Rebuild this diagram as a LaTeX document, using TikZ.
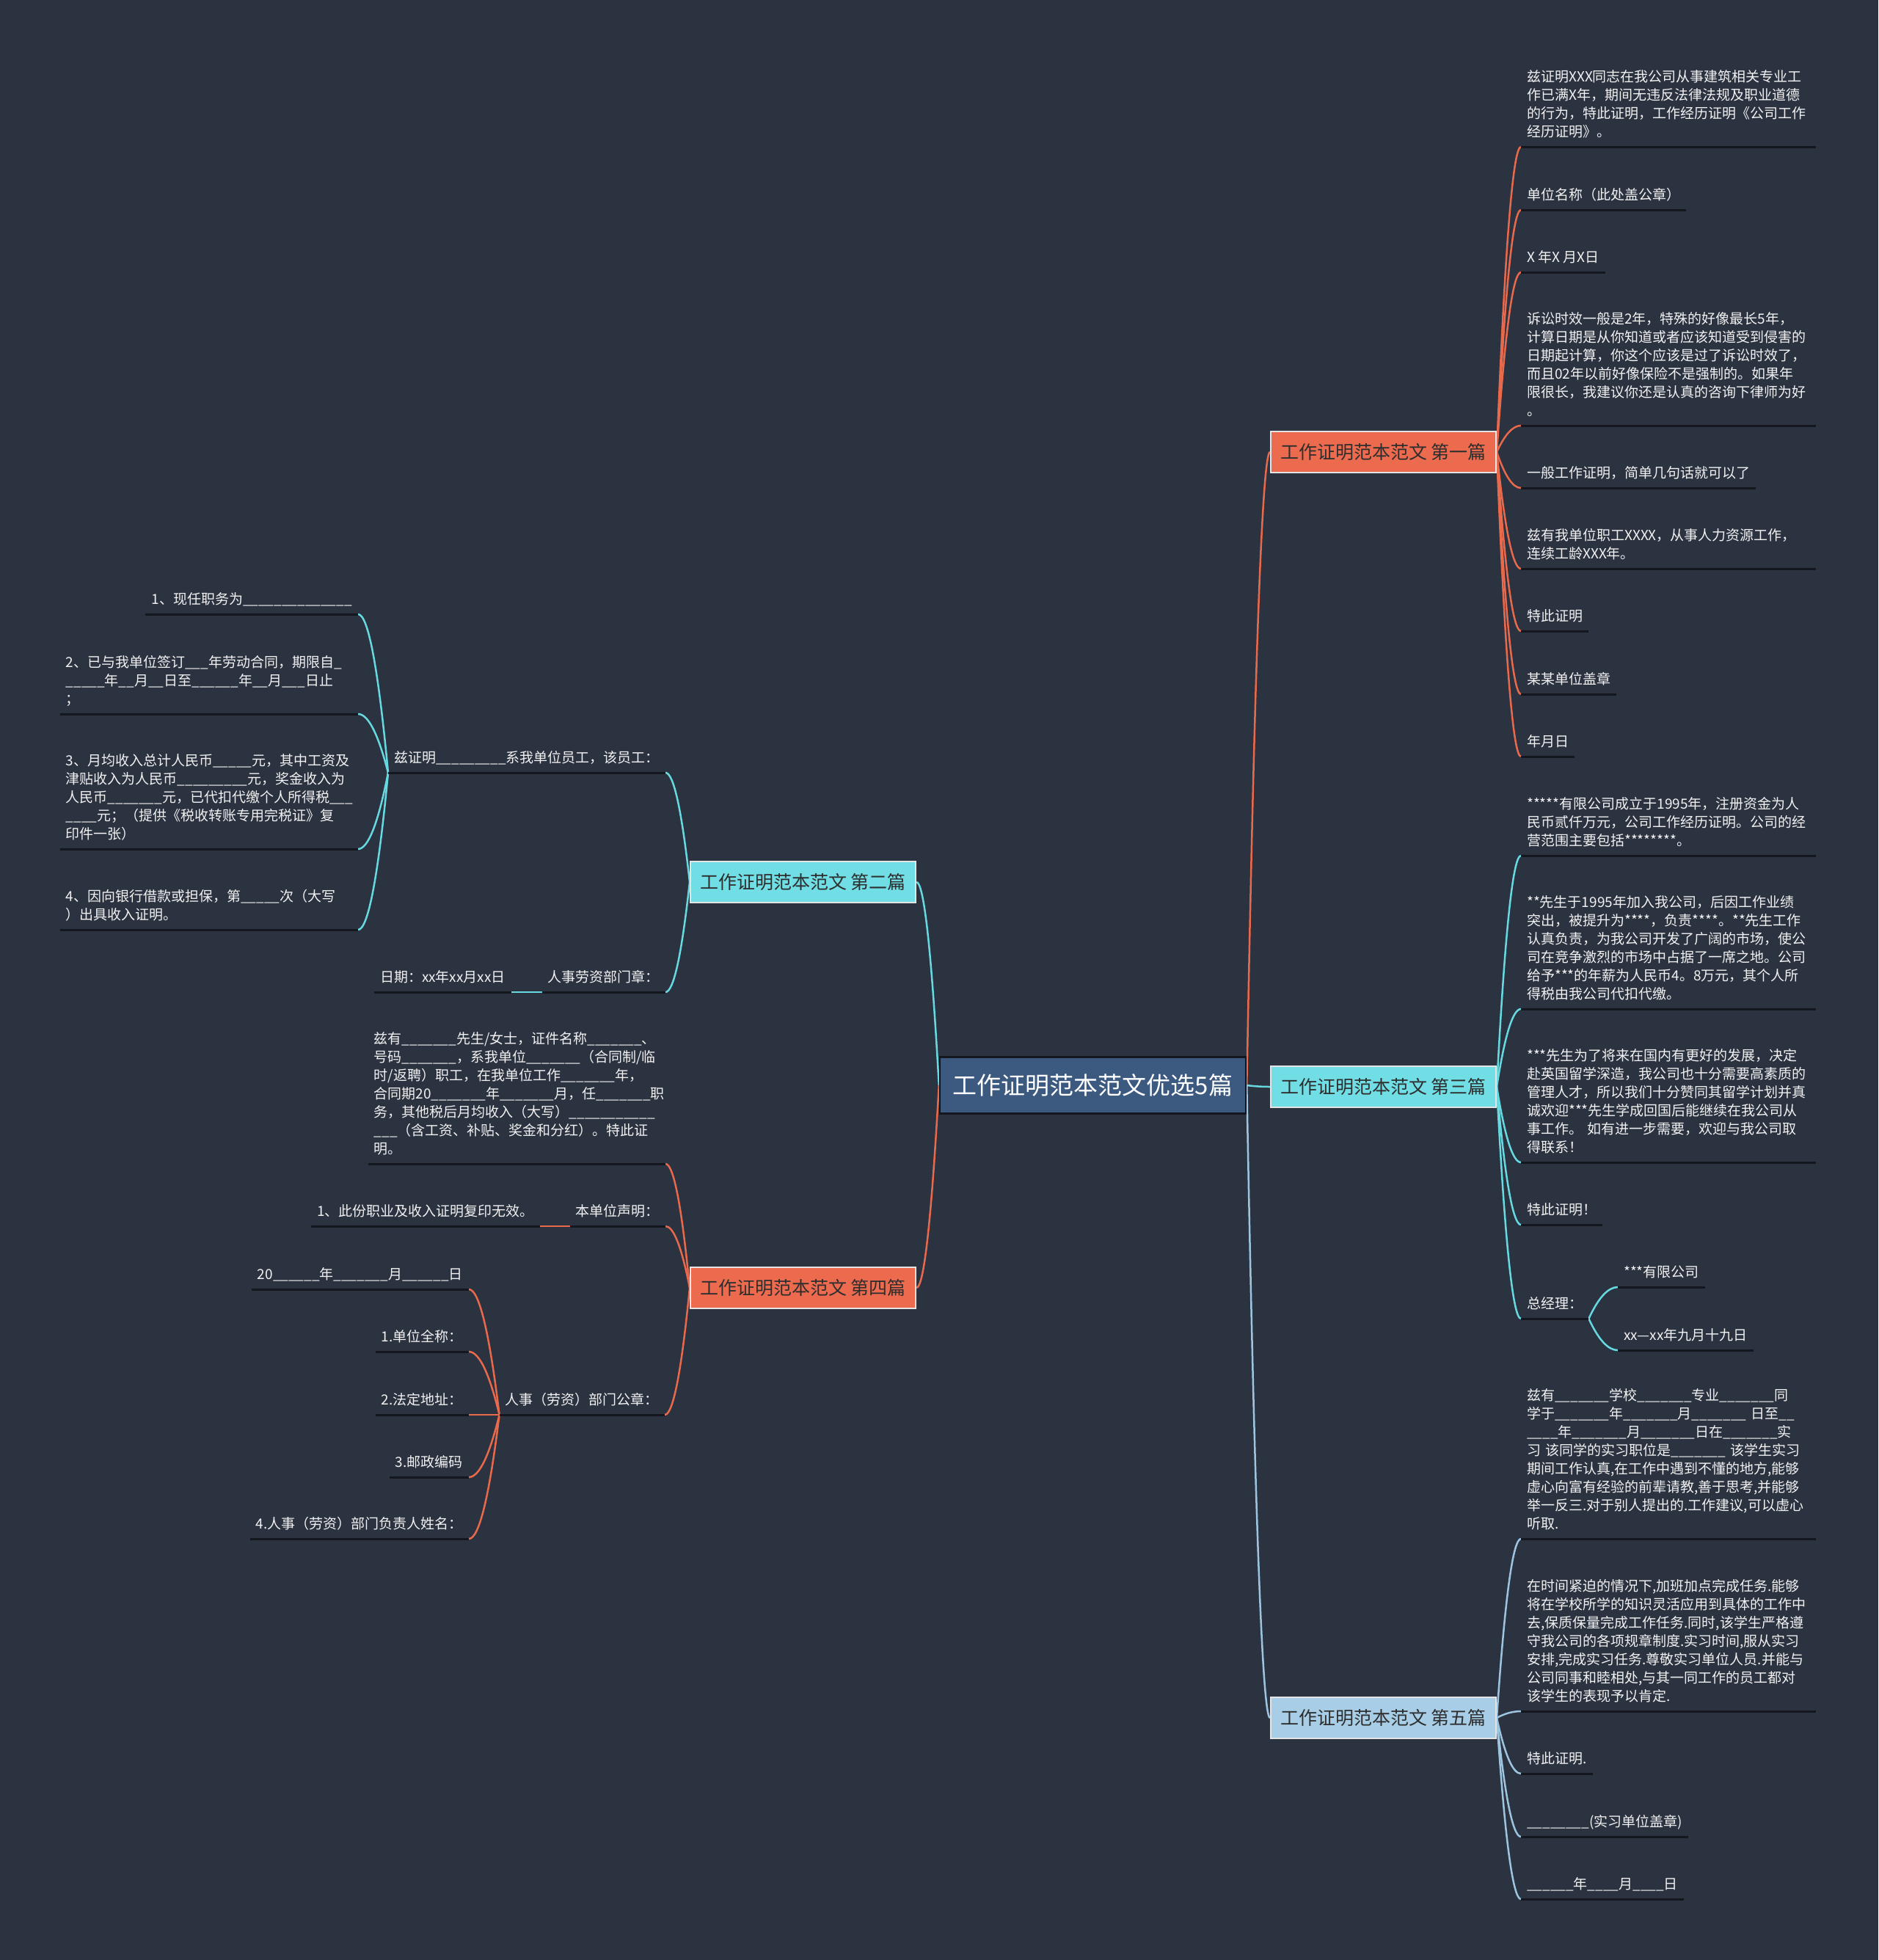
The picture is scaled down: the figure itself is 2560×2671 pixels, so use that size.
\documentclass[tikz,border=0pt]{standalone}
\usepackage{fontspec}
\newfontfamily\cjk{Noto Sans CJK SC}
\usetikzlibrary{calc}
\pgfdeclarelayer{bg}
\pgfsetlayers{bg,main}
\definecolor{bgC}{HTML}{2B3240}
\definecolor{coralL}{HTML}{E8694C}
\definecolor{coralF}{HTML}{EC6B4F}
\definecolor{cyanL}{HTML}{67D9E0}
\definecolor{cyanF}{HTML}{70DEE4}
\definecolor{blueL}{HTML}{9EC5E0}
\definecolor{blueF}{HTML}{A7CEE6}
\definecolor{centerF}{HTML}{3C5A80}
\definecolor{centerB}{HTML}{14181E}
\definecolor{ulineC}{HTML}{14181E}
\definecolor{leafText}{HTML}{F2F2F2}
\definecolor{boxText}{HTML}{2E2E2E}
\definecolor{boxBorder}{HTML}{E4E4E4}
\tikzset{
 lf/.style={font=\cjk\fontsize{19}{25}\selectfont, text=leafText, inner xsep=8pt, inner ysep=5.8pt, align=left, execute at end node=\strut},
 lfR/.style={lf, anchor=south west},
 lfL/.style={lf, anchor=south east},
 blkR/.style={lfR, text width=386pt},
 blkL/.style={lfL, text width=390pt},
 uline/.style={draw=ulineC, line width=3pt},
 conn/.style={line width=2.5pt},
 cor/.style={conn, draw=coralL},
 cya/.style={conn, draw=cyanL},
 blu/.style={conn, draw=blueL},
 branch/.style={font=\cjk\fontsize{25}{30}\selectfont, text=boxText, minimum width=307pt, minimum height=56pt, inner sep=0pt, draw=boxBorder, line width=2pt},
 root/.style={font=\cjk\fontsize{33}{40}\selectfont, text=white, fill=centerF, draw=centerB, line width=2.5pt, minimum width=417pt, minimum height=77pt, inner sep=0pt},
}
\newcommand\lnk[3]{\draw[#1] let \p1=(#2), \p2=(#3) in (\p1) .. controls ({\x1+(\x2-\x1)/3},{\y1+2*(\y2-\y1)/3}) and ({\x2-(\x2-\x1)/3},\y2) .. (\p2);}
\begin{document}
\catcode`\_=12
\begin{tikzpicture}[x=1pt,y=-1pt]
\useasboundingbox (0,0) rectangle (2560,2671);
\begin{pgfonlayer}{bg}
\fill[bgC] (0,0) rectangle (2560,2671);
\end{pgfonlayer}

% root and branches
\node[root] (c) at (1489.5,1479) {工作证明范本范文优选5篇};
\node[branch, fill=coralF] (b1) at (1885.5,616) {工作证明范本范文 第一篇};
\node[branch, fill=cyanF] (b3) at (1885.5,1481) {工作证明范本范文 第三篇};
\node[branch, fill=blueF] (b5) at (1885.5,2341) {工作证明范本范文 第五篇};
\node[branch, fill=cyanF] (b2) at (1094.5,1202) {工作证明范本范文 第二篇};
\node[branch, fill=coralF] (b4) at (1094.5,1755) {工作证明范本范文 第四篇};

% branch 1 leaves
\node[blkR] (r1a) at (2073,200) {兹证明XXX同志在我公司从事建筑相关专业工\\作已满X年，期间无违反法律法规及职业道德\\的行为，特此证明，工作经历证明《公司工作\\经历证明》。};
\node[lfR] (r1b) at (2073,286) {单位名称（此处盖公章）};
\node[lfR] (r1c) at (2073,371) {X 年X 月X日};
\node[blkR] (r1d) at (2073,580) {诉讼时效一般是2年，特殊的好像最长5年，\\计算日期是从你知道或者应该知道受到侵害的\\日期起计算，你这个应该是过了诉讼时效了，\\而且02年以前好像保险不是强制的。如果年\\限很长，我建议你还是认真的咨询下律师为好\\。};
\node[lfR] (r1e) at (2073,665) {一般工作证明，简单几句话就可以了};
\node[blkR] (r1f) at (2073,775) {兹有我单位职工XXXX，从事人力资源工作，\\连续工龄XXX年。};
\node[lfR] (r1g) at (2073,860) {特此证明};
\node[lfR] (r1h) at (2073,946) {某某单位盖章};
\node[lfR] (r1i) at (2073,1031) {年月日};

% branch 3 leaves
\node[blkR] (r3a) at (2073,1166) {*****有限公司成立于1995年，注册资金为人\\民币贰仟万元，公司工作经历证明。公司的经\\营范围主要包括********。};
\node[blkR] (r3b) at (2073,1375) {**先生于1995年加入我公司，后因工作业绩\\突出，被提升为****，负责****。**先生工作\\认真负责，为我公司开发了广阔的市场，使公\\司在竞争激烈的市场中占据了一席之地。公司\\给予***的年薪为人民币4。8万元，其个人所\\得税由我公司代扣代缴。};
\node[blkR] (r3c) at (2073,1584) {***先生为了将来在国内有更好的发展，决定\\赴英国留学深造，我公司也十分需要高素质的\\管理人才，所以我们十分赞同其留学计划并真\\诚欢迎***先生学成回国后能继续在我公司从\\事工作。~如有进一步需要，欢迎与我公司取\\得联系！};
\node[lfR] (r3d) at (2073,1669) {特此证明！};
\node[lfR] (r3e) at (2073,1797) {总经理：};
\node[lfR] (r3e1) at (2205,1754) {***有限公司};
\node[lfR] (r3e2) at (2205,1840) {xx—xx年九月十九日};

% branch 5 leaves
\node[blkR] (r5a) at (2073,2097) {兹有_______学校_______专业_______同\\学于_______年_______月_______~日至__\\____年_______月_______日在_______实\\习~该同学的实习职位是_______~该学生实习\\期间工作认真,在工作中遇到不懂的地方,能够\\虚心向富有经验的前辈请教,善于思考,并能够\\举一反三.对于别人提出的.工作建议,可以虚心\\听取.};
\node[blkR] (r5b) at (2073,2332) {在时间紧迫的情况下,加班加点完成任务.能够\\将在学校所学的知识灵活应用到具体的工作中\\去,保质保量完成工作任务.同时,该学生严格遵\\守我公司的各项规章制度.实习时间,服从实习\\安排,完成实习任务.尊敬实习单位人员.并能与\\公司同事和睦相处,与其一同工作的员工都对\\该学生的表现予以肯定.};
\node[lfR] (r5c) at (2073,2417) {特此证明.};
\node[lfR] (r5d) at (2073,2503) {________(实习单位盖章)};
\node[lfR] (r5e) at (2073,2588) {______年____月____日};

% branch 2 leaves
\node[lfL] (l2a) at (907,1053) {兹证明_________系我单位员工，该员工：};
\node[lfL] (l2a1) at (488,837) {1、现任职务为______________};
\node[blkL] (l2a2) at (488,973) {2、已与我单位签订___年劳动合同，期限自_\\_____年__月__日至______年__月___日止\\；};
\node[blkL] (l2a3) at (488,1157) {3、月均收入总计人民币_____元，其中工资及\\津贴收入为人民币_________元，奖金收入为\\人民币_______元，已代扣代缴个人所得税___\\____元；（提供《税收转账专用完税证》复\\印件一张）};
\node[blkL] (l2a4) at (488,1267) {4、因向银行借款或担保，第_____次（大写\\）出具收入证明。};
\node[lfL] (l2b) at (907,1352) {人事劳资部门章：};
\node[lfL] (l2b1) at (697,1352) {日期：xx年xx月xx日};

% branch 4 leaves
\node[lfL, text width=389pt] (l4a) at (907,1586) {兹有_______先生/女士，证件名称_______、\\号码_______，系我单位_______（合同制/临\\时/返聘）职工，在我单位工作_______年，\\合同期20_______年_______月，任_______职\\务，其他税后月均收入（大写）___________\\___（含工资、补贴、奖金和分红）。特此证\\明。};
\node[lfL] (l4b) at (907,1671) {本单位声明：};
\node[lfL] (l4b1) at (736,1671) {1、此份职业及收入证明复印无效。};
\node[lfL] (l4c) at (906,1928) {人事（劳资）部门公章：};
\node[lfL] (l4c1) at (639,1757) {20______年_______月______日};
\node[lfL] (l4c2) at (639,1842) {1.单位全称：};
\node[lfL] (l4c3) at (639,1928) {2.法定地址：};
\node[lfL] (l4c4) at (639,2013) {3.邮政编码};
\node[lfL] (l4c5) at (639,2097) {4.人事（劳资）部门负责人姓名：};

% underlines
\foreach \k in {r1a,r1b,r1c,r1d,r1e,r1f,r1g,r1h,r1i,r3a,r3b,r3c,r3d,r3e,r3e1,r3e2,r5a,r5b,r5c,r5d,r5e,l2a,l2a1,l2a2,l2a3,l2a4,l2b,l2b1,l4a,l4b,l4b1,l4c,l4c1,l4c2,l4c3,l4c4,l4c5}
  \draw[uline] (\k.south west) -- (\k.south east);

% connectors
\begin{pgfonlayer}{bg}
\lnk{cor}{c.east}{b1.west}
\lnk{cya}{c.east}{b3.west}
\lnk{blu}{c.east}{b5.west}
\lnk{cya}{c.west}{b2.east}
\lnk{cor}{c.west}{b4.east}
\foreach \k in {r1a,r1b,r1c,r1d,r1e,r1f,r1g,r1h,r1i} {\lnk{cor}{b1.east}{\k.south west}}
\foreach \k in {r3a,r3b,r3c,r3d,r3e} {\lnk{cya}{b3.east}{\k.south west}}
\foreach \k in {r3e1,r3e2} {\lnk{cya}{r3e.south east}{\k.south west}}
\foreach \k in {r5a,r5b,r5c,r5d,r5e} {\lnk{blu}{b5.east}{\k.south west}}
\foreach \k in {l2a,l2b} {\lnk{cya}{b2.west}{\k.south east}}
\foreach \k in {l2a1,l2a2,l2a3,l2a4} {\lnk{cya}{l2a.south west}{\k.south east}}
\lnk{cya}{l2b.south west}{l2b1.south east}
\foreach \k in {l4a,l4b,l4c} {\lnk{cor}{b4.west}{\k.south east}}
\lnk{cor}{l4b.south west}{l4b1.south east}
\foreach \k in {l4c1,l4c2,l4c3,l4c4,l4c5} {\lnk{cor}{l4c.south west}{\k.south east}}
\end{pgfonlayer}
\end{tikzpicture}
\end{document}
